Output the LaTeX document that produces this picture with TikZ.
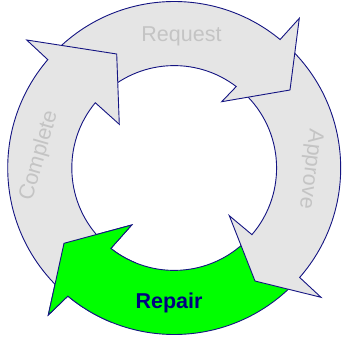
\documentclass[tikz,border=0pt]{standalone}
\usepackage{fontspec}
\setmainfont{Liberation Sans}
\definecolor{edgeblue}{RGB}{20,20,130}
\definecolor{bandgrey}{RGB}{229,229,229}
\definecolor{labelgrey}{RGB}{196,196,196}
\definecolor{labelnavy}{RGB}{0,0,128}
\definecolor{activegreen}{RGB}{0,255,0}

% Ring radii (pt)
\newcommand\Ro{166.5pt}
\newcommand\Ri{102.4pt}

% Each arrow: outer arc from its tail to the head, head triangle, inner arc back
\newcommand\shapeRequest{(135:\Ro) arc[start angle=135,end angle=50.5,radius=\Ro]
  -- (125.1,149.7) -- (115.8,78) -- (47.5,66.3)
  -- (52.7:\Ri) arc[start angle=52.7,end angle=135,radius=\Ri] -- cycle}
\newcommand\shapeApprove{(47:\Ro) arc[start angle=47,end angle=-41.1,radius=\Ro]
  -- (146.8,-129.3) -- (80.8,-113) -- (55.1,-47.7)
  -- (-40.6:\Ri) arc[start angle=-40.6,end angle=47,radius=\Ri] -- cycle}
\newcommand\shapeRepair{(-45:\Ro) arc[start angle=-45,end angle=-129.7,radius=\Ro]
  -- (-125.9,-147) -- (-110.2,-75.3) -- (-42.5,-57)
  -- (-128.2:\Ri) arc[start angle=-128.2,end angle=-45,radius=\Ri] -- cycle}
\newcommand\shapeComplete{(226:\Ro) arc[start angle=226,end angle=139.4,radius=\Ro]
  -- (-147.5,128) -- (-57.5,114) -- (-54.9,43.7)
  -- (140.4:\Ri) arc[start angle=140.4,end angle=226,radius=\Ri] -- cycle}

\begin{document}
\begin{tikzpicture}[x=1pt,y=1pt,
  arrowband/.style={draw=edgeblue,line width=0.9pt,line join=miter,fill=bandgrey},
  steplabel/.style={text=labelgrey,font=\fontsize{21.5}{24}\selectfont,inner sep=0pt},
  activelabel/.style={text=labelnavy,font=\fontsize{21.5}{24}\selectfont\bfseries,inner sep=0pt}]
\useasboundingbox (-174.2,-169) rectangle (168.8,168);

% Each head lies over the tail of the next step
\draw[arrowband,fill=activegreen] \shapeRepair;
\draw[arrowband] \shapeApprove;
\draw[arrowband] \shapeRequest;
\draw[arrowband] \shapeComplete;
% Repair's head goes back on top of Complete's tail
\begin{scope}
  \clip (0,0) -- (198:215pt) arc[start angle=198,end angle=248,radius=215pt] -- cycle;
  \draw[arrowband,fill=activegreen] \shapeRepair;
\end{scope}

\node[steplabel,anchor=base] (request) at (7.3,126.3) {Request};
\node[steplabel,rotate=-97] (approve) at (135.8,-1.2) {Approve};
\node[activelabel,anchor=base] (repair) at (-5.2,-140.3) {Repair};
\node[steplabel,rotate=74] (complete) at (-135,12.2) {Complete};
\end{tikzpicture}
\end{document}
